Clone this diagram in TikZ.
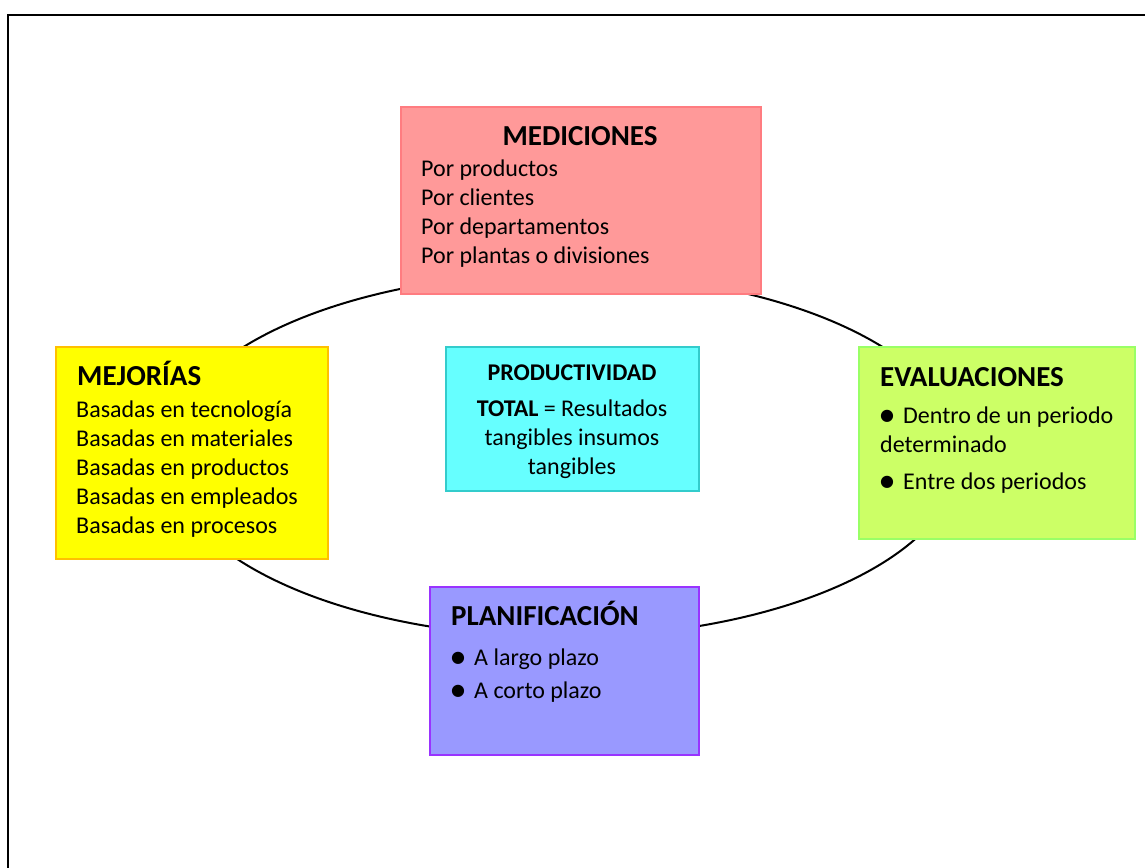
\documentclass[tikz,border=0pt]{standalone}
\usepackage{fontspec}
\setmainfont{Carlito}
\newfontfamily\simbolos{DejaVu Sans}
\usetikzlibrary{positioning,shapes.geometric}

\definecolor{medfill}{RGB}{255,153,153}
\definecolor{medline}{RGB}{255,124,128}
\definecolor{mejfill}{RGB}{255,255,0}
\definecolor{mejline}{RGB}{255,192,0}
\definecolor{profill}{RGB}{102,255,255}
\definecolor{proline}{RGB}{51,204,204}
\definecolor{evafill}{RGB}{204,255,102}
\definecolor{evaline}{RGB}{153,255,102}
\definecolor{plafill}{RGB}{153,153,255}
\definecolor{plaline}{RGB}{153,51,255}

\newcommand{\vineta}{\makebox[23pt][l]{\raisebox{3pt}{\simbolos\fontsize{16}{16}\selectfont ●}}}

\begin{document}
\begin{tikzpicture}[x=1pt,y=-1pt,
    caja/.style={draw,line width=1.5pt,anchor=north west,inner sep=0pt},
    titulo/.style={anchor=base west,inner sep=0pt,font=\fontsize{29}{35}\selectfont\bfseries},
    linea/.style={anchor=base west,inner sep=0pt,font=\fontsize{24}{29}\selectfont}]
    \useasboundingbox (0,0) rectangle (1145,867);
    \clip (0,0) rectangle (1145,867);
    \fill[white] (0,0) rectangle (1145,867);
    \draw[line width=2.5pt] (8,15) rectangle (1170,890);

    % ciclo
    \node[ellipse,draw,line width=2pt,minimum width=794pt,minimum height=364pt] (ciclo) at (563,455) {};

    % cajas
    \node[caja,fill=medfill,draw=medline,minimum width=360pt,minimum height=187pt] (med) at (400,106) {};
    \node[caja,fill=mejfill,draw=mejline,minimum width=272pt,minimum height=212pt] (mej) at (55,346) {};
    \node[caja,fill=profill,draw=proline,minimum width=253pt,minimum height=144pt] (pro) at (445,346) {};
    \node[caja,fill=evafill,draw=evaline,minimum width=276pt,minimum height=192pt] (eva) at (858,346) {};
    \node[caja,fill=plafill,draw=plaline,minimum width=269pt,minimum height=168pt] (pla) at (429,586) {};

    % mediciones
    \node[titulo,anchor=base] (med-t) at (580,145) {MEDICIONES};
    \node[linea] (med-1) at (421,176) {Por productos};
    \node[linea] (med-2) at (421,205) {Por clientes};
    \node[linea] (med-3) at (421,234) {Por departamentos};
    \node[linea] (med-4) at (421,263) {Por plantas o divisiones};

    % mejorias
    \node[titulo] (mej-t) at (77,385) {MEJORÍAS};
    \node[linea] (mej-1) at (76,417) {Basadas en tecnología};
    \node[linea] (mej-2) at (76,446) {Basadas en materiales};
    \node[linea] (mej-3) at (76,475) {Basadas en productos};
    \node[linea] (mej-4) at (76,504) {Basadas en empleados};
    \node[linea] (mej-5) at (76,533) {Basadas en procesos};

    % productividad
    \node[linea,anchor=base] (pro-1) at (572,380) {\bfseries PRODUCTIVIDAD};
    \node[linea,anchor=base] (pro-2) at (572,416) {\textbf{TOTAL} = Resultados};
    \node[linea,anchor=base] (pro-3) at (572,445) {tangibles insumos};
    \node[linea,anchor=base] (pro-4) at (572,474) {tangibles};

    % evaluaciones
    \node[titulo] (eva-t) at (880,386) {EVALUACIONES};
    \node[linea] (eva-1) at (880,423) {\vineta Dentro de un periodo};
    \node[linea] (eva-2) at (880,452) {determinado};
    \node[linea] (eva-3) at (880,489) {\vineta Entre dos periodos};

    % planificacion
    \node[titulo] (pla-t) at (451,625) {PLANIFICACIÓN};
    \node[linea] (pla-1) at (451,665) {\vineta A largo plazo};
    \node[linea] (pla-2) at (451,698) {\vineta A corto plazo};
\end{tikzpicture}
\end{document}
